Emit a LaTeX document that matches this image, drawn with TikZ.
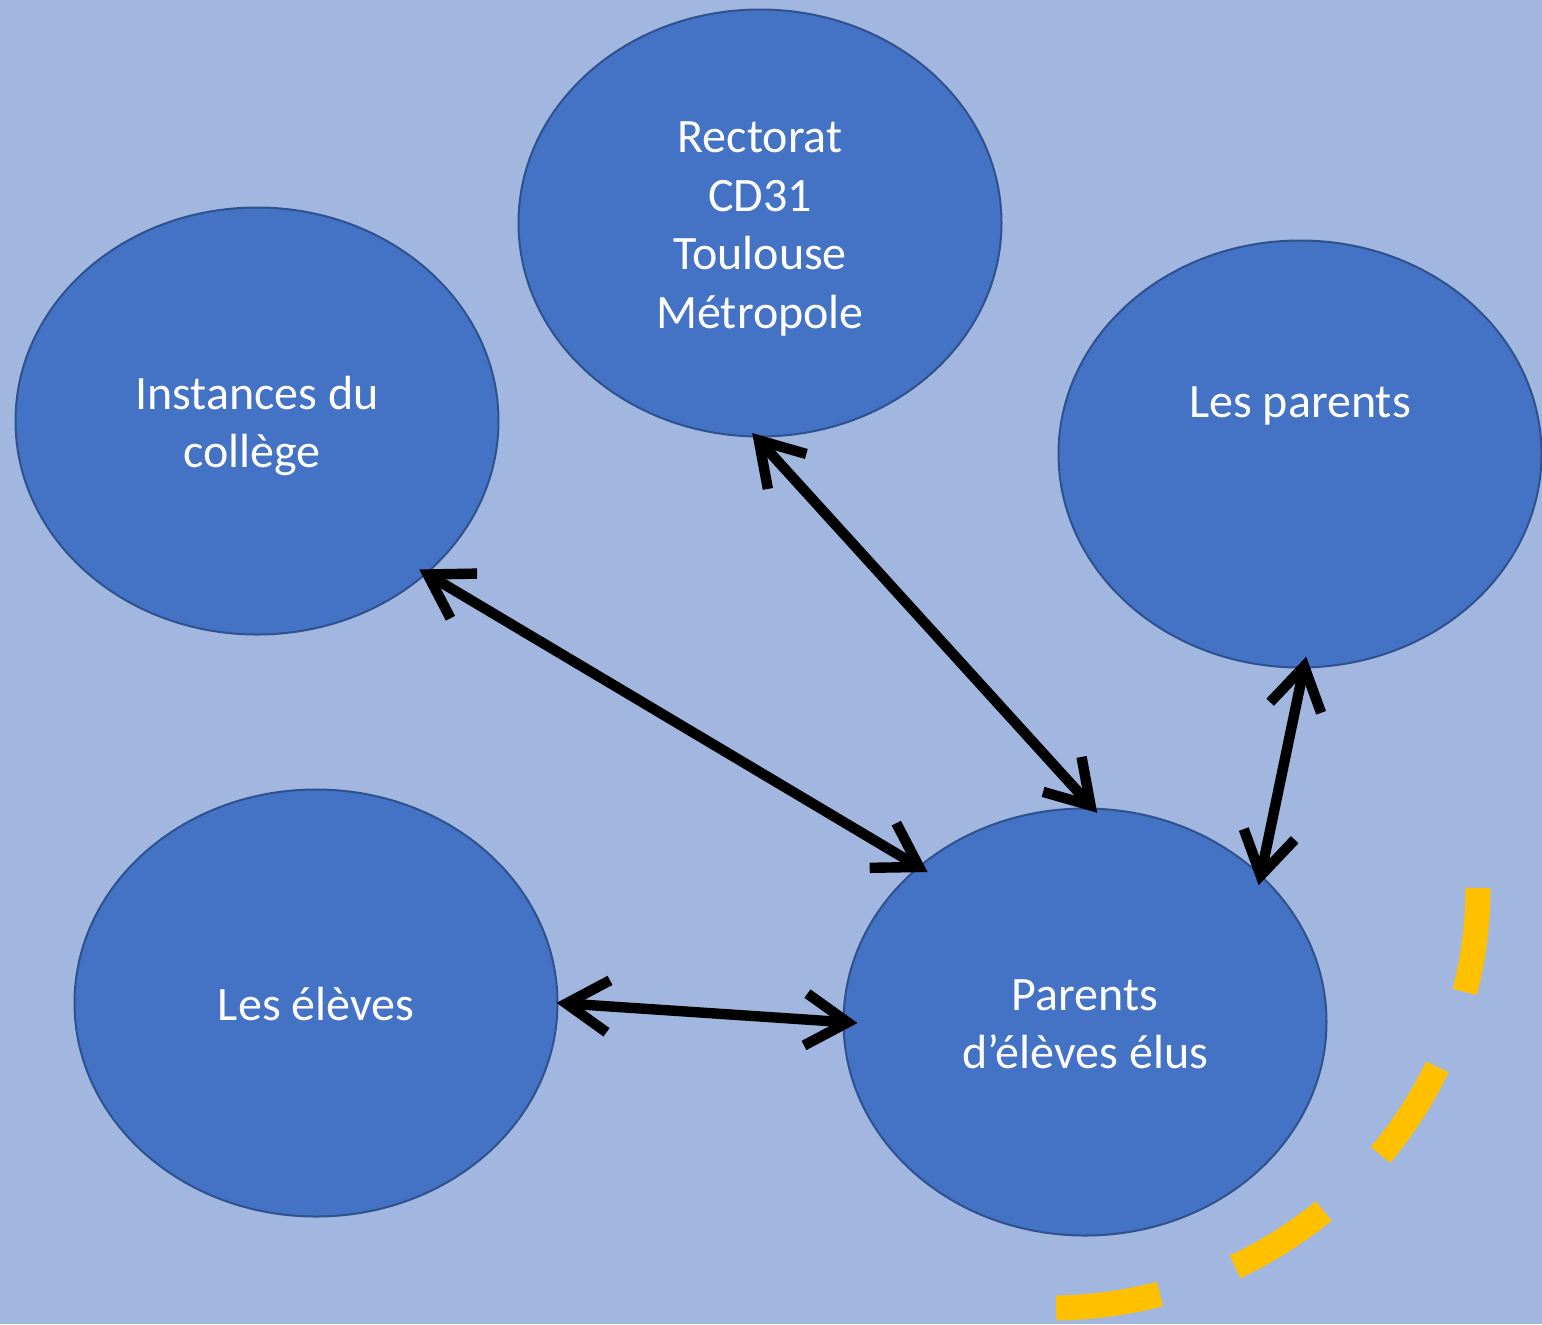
\documentclass[tikz,border=0pt]{standalone}
\usepackage{fontspec}
\usepackage{array}
\setmainfont{Carlito}
\usetikzlibrary{shapes.geometric,arrows.meta}
\definecolor{bg}{HTML}{A1B7E0}
\definecolor{bluefill}{HTML}{4472C4}
\definecolor{blueline}{HTML}{2F528F}
\definecolor{gold}{HTML}{FFC000}
\newcommand{\lnstrut}{\rule[-6pt]{0pt}{29.3pt}}
\newcommand{\blk}[1]{{\renewcommand{\arraystretch}{0}\begin{tabular}{@{}>{\lnstrut}c@{}}#1\end{tabular}}}
\tikzset{
  bubbletext/.style={text=white, align=center, inner sep=0pt, font=\fontsize{24pt}{29.3pt}\selectfont},
  bubble/.style={bubbletext, ellipse, fill=bluefill, draw=blueline, line width=1pt,
    minimum width=241.5pt, minimum height=213.5pt},
  biarrow/.style={line width=5.2pt, black,
    {Straight Barb[sharp,length=21pt,width=26pt]}-{Straight Barb[sharp,length=21pt,width=26pt]}},
  goldarc/.style={draw=gold, line width=12.5pt, line cap=butt, dash pattern=on 52.5pt off 40pt}
}
\begin{document}
\begin{tikzpicture}[x=0.5pt,y=-0.5pt]
\fill[bg] (0,0) rectangle (1542,1324);
\useasboundingbox (0,0) rectangle (1542,1324);
\node[bubble] (rect) at (760,223) {\blk{Rectorat\\CD31\\Toulouse\\Métropole}};
\node[bubble] (inst) at (257,421) {\blk{Instances du\\collège\hspace*{5pt}}};
\node[bubble] (parents) at (1300,454) {};
\node[bubbletext] (parentsT) at (1300,400) {\blk{Les parents}};
\node[bubble] (eleves) at (316,1003) {\blk{Les élèves}};
\node[bubble] (elus) at (1085,1022) {\blk{Parents\\d’élèves élus}};
\draw[biarrow, shorten <=-4.5pt, shorten >=-5.5pt] (inst.-42.4) -- (elus.137.6);
\draw[biarrow, shorten <=-3pt, shorten >=-3.5pt] (rect.-91.4) -- (elus.88.1);
\draw[biarrow, shorten <=-6pt, shorten >=-5.5pt] (parents.-89.4) -- (elus.40);
\draw[biarrow, shorten <=-1pt, shorten >=-7.5pt] (eleves.0.7) -- (elus.180.25);
\draw[goldarc] (1478,888) arc[start angle=0, end angle=90, x radius=428, y radius=420];
\end{tikzpicture}
\end{document}
